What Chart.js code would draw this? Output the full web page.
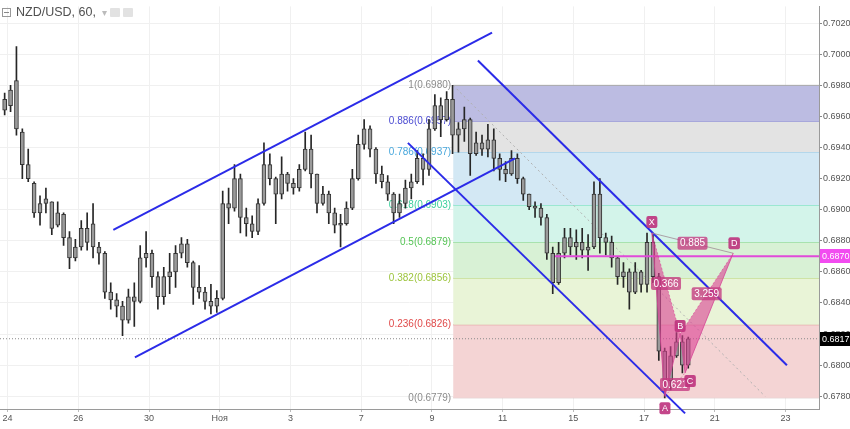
<!DOCTYPE html>
<html>
<head>
<meta charset="utf-8">
<script src="https://cdn.jsdelivr.net/npm/chart.js@4.4.0/dist/chart.umd.min.js"></script>
<style>
  html, body { margin: 0; padding: 0; background: #fff; }
  #wrap { position: relative; width: 850px; height: 429px; }
  #header { position: absolute; left: 2px; top: 5px; height: 14px; display: flex; align-items: center;
            font: 12.5px "Liberation Sans", Arial, sans-serif; color: #505050; }
  #header .box { width: 7px; height: 7px; border: 1px solid #999; position: relative; margin-right: 5px; }
  #header .box::after { content: ""; position: absolute; left: 1px; right: 1px; top: 3px; height: 1px; background: #888; }
  #header .dash { color: #bbb; margin-left: 6px; font-size: 10px; }
  #header .ico { width: 10px; height: 9px; background: #e2e2e2; margin-left: 3px; border-radius: 1px; }
  #header .ico:first-of-type { margin-left: 8px; }
</style>
</head>
<body>
<div id="wrap">
  <canvas id="chart" width="850" height="429"></canvas>
  <div id="header"><span class="box"></span><span>NZD/USD, 60,</span><span class="dash">▾</span><span class="ico"></span><span class="ico"></span></div>
</div>
<script>
// axis ticks (x in trading days from the "24" label)
const xTickPos = [0, 2, 4, 6, 8, 10, 12, 14, 16, 18, 20, 22];
const xTickLabels = ['24', '26', '30', 'Ноя', '3', '7', '9', '11', '15', '17', '21', '23'];
const yTicks = [0.678, 0.680, 0.682, 0.684, 0.686, 0.688, 0.690, 0.692, 0.694, 0.696, 0.698, 0.700, 0.702];
const xMin = -0.215, xMax = 22.947;
const yMin = 0.67718, yMax = 0.70308;

// 4-hour bars
const barStart = -1 / 12;
const barStep = 1 / 6;
const barOpen = [
  0.6971, 0.6967, 0.6983, 0.6950, 0.6929, 0.6917, 0.6898, 0.6904, 0.6905, 0.6890,
  0.6897, 0.6882, 0.6869, 0.6876, 0.6888, 0.6891, 0.6876, 0.6872, 0.6847, 0.6842,
  0.6838, 0.6829, 0.6844, 0.6841, 0.6869, 0.6872, 0.6857, 0.6844, 0.6857, 0.6860,
  0.6872, 0.6878, 0.6866, 0.6850, 0.6847, 0.6841, 0.6838, 0.6843, 0.6904, 0.6901,
  0.6920, 0.6895, 0.6891, 0.6886, 0.6904, 0.6929, 0.6920, 0.6910, 0.6923, 0.6917,
  0.6914, 0.6926, 0.6939, 0.6923, 0.6904, 0.6910, 0.6898, 0.6890, 0.6891, 0.6901,
  0.6920, 0.6942, 0.6952, 0.6939, 0.6923, 0.6918, 0.6910, 0.6898, 0.6904, 0.6914,
  0.6918, 0.6933, 0.6926, 0.6952, 0.6967, 0.6958, 0.6971, 0.6948, 0.6952, 0.6958,
  0.6936, 0.6943, 0.6939, 0.6945, 0.6933, 0.6926, 0.6923, 0.6933, 0.6920, 0.6910,
  0.6902, 0.6901, 0.6895, 0.6872, 0.6853, 0.6872, 0.6882, 0.6876, 0.6879, 0.6874,
  0.6876, 0.6910, 0.6882, 0.6879, 0.6869, 0.6857, 0.6860, 0.6847, 0.6860, 0.6852,
  0.6879, 0.6857, 0.6809, 0.6790, 0.6806, 0.6815, 0.6800
];
const barHigh = [
  0.6975, 0.6980, 0.7005, 0.6952, 0.6939, 0.6918, 0.6909, 0.6914, 0.6905, 0.6905,
  0.6898, 0.6886, 0.6881, 0.6893, 0.6898, 0.6904, 0.6879, 0.6873, 0.6853, 0.6846,
  0.6841, 0.6849, 0.6853, 0.6877, 0.6886, 0.6874, 0.6860, 0.6863, 0.6872, 0.6877,
  0.6882, 0.6881, 0.6867, 0.6864, 0.6850, 0.6852, 0.6848, 0.6912, 0.6914, 0.6929,
  0.6923, 0.6901, 0.6896, 0.6907, 0.6943, 0.6936, 0.6921, 0.6934, 0.6924, 0.6920,
  0.6929, 0.6950, 0.6948, 0.6923, 0.6915, 0.6912, 0.6901, 0.6897, 0.6905, 0.6926,
  0.6948, 0.6958, 0.6954, 0.6940, 0.6928, 0.6922, 0.6911, 0.6910, 0.6919, 0.6923,
  0.6938, 0.6936, 0.6958, 0.6974, 0.6972, 0.6976, 0.6980, 0.6956, 0.6966, 0.6959,
  0.6950, 0.6948, 0.6955, 0.6952, 0.6936, 0.6931, 0.6938, 0.6936, 0.6921, 0.6910,
  0.6905, 0.6904, 0.6897, 0.6876, 0.6879, 0.6888, 0.6888, 0.6887, 0.6888, 0.6884,
  0.6918, 0.6920, 0.6885, 0.6883, 0.6870, 0.6866, 0.6862, 0.6866, 0.6861, 0.6885,
  0.6884, 0.6859, 0.6811, 0.6812, 0.6821, 0.6819, 0.6818
];
const barLow = [
  0.6961, 0.6963, 0.6948, 0.6920, 0.6918, 0.6895, 0.6890, 0.6898, 0.6884, 0.6889,
  0.6877, 0.6862, 0.6867, 0.6874, 0.6874, 0.6869, 0.6865, 0.6843, 0.6836, 0.6831,
  0.6819, 0.6827, 0.6825, 0.6840, 0.6863, 0.6850, 0.6836, 0.6839, 0.6846, 0.6850,
  0.6869, 0.6863, 0.6839, 0.6843, 0.6836, 0.6833, 0.6834, 0.6842, 0.6891, 0.6899,
  0.6885, 0.6883, 0.6882, 0.6884, 0.6903, 0.6916, 0.6891, 0.6907, 0.6912, 0.6910,
  0.6912, 0.6925, 0.6914, 0.6898, 0.6903, 0.6891, 0.6885, 0.6876, 0.6890, 0.6900,
  0.6919, 0.6939, 0.6934, 0.6917, 0.6914, 0.6906, 0.6891, 0.6895, 0.6901, 0.6907,
  0.6917, 0.6916, 0.6922, 0.6951, 0.6947, 0.6957, 0.6936, 0.6937, 0.6944, 0.6922,
  0.6935, 0.6935, 0.6934, 0.6925, 0.6919, 0.6918, 0.6922, 0.6917, 0.6906, 0.6900,
  0.6895, 0.6890, 0.6868, 0.6846, 0.6852, 0.6869, 0.6871, 0.6868, 0.6869, 0.6861,
  0.6875, 0.6872, 0.6871, 0.6863, 0.6852, 0.6850, 0.6836, 0.6846, 0.6847, 0.6847,
  0.6853, 0.6803, 0.6779, 0.6784, 0.6805, 0.6795, 0.6798
];
const barClose = [
  0.6964, 0.6977, 0.6952, 0.6929, 0.6920, 0.6898, 0.6904, 0.6907, 0.6888, 0.6898,
  0.6882, 0.6869, 0.6876, 0.6888, 0.6879, 0.6876, 0.6872, 0.6847, 0.6842, 0.6838,
  0.6829, 0.6844, 0.6841, 0.6869, 0.6872, 0.6857, 0.6844, 0.6857, 0.6860, 0.6872,
  0.6878, 0.6866, 0.6850, 0.6847, 0.6841, 0.6838, 0.6843, 0.6904, 0.6901, 0.6920,
  0.6895, 0.6891, 0.6886, 0.6904, 0.6929, 0.6920, 0.6910, 0.6923, 0.6917, 0.6914,
  0.6926, 0.6939, 0.6923, 0.6904, 0.6910, 0.6898, 0.6890, 0.6891, 0.6901, 0.6920,
  0.6942, 0.6952, 0.6939, 0.6923, 0.6918, 0.6910, 0.6898, 0.6904, 0.6914, 0.6918,
  0.6933, 0.6926, 0.6952, 0.6967, 0.6958, 0.6971, 0.6948, 0.6952, 0.6958, 0.6936,
  0.6943, 0.6939, 0.6945, 0.6933, 0.6926, 0.6923, 0.6933, 0.6920, 0.6910, 0.6902,
  0.6901, 0.6895, 0.6872, 0.6853, 0.6872, 0.6882, 0.6876, 0.6879, 0.6874, 0.6876,
  0.6910, 0.6882, 0.6879, 0.6869, 0.6857, 0.6860, 0.6847, 0.6860, 0.6852, 0.6879,
  0.6857, 0.6809, 0.6790, 0.6806, 0.6815, 0.6800, 0.6817
];

// fibonacci retracement
const fibStartX = 12.6;
const fibLevels = [1, 0.886, 0.786, 0.618, 0.5, 0.382, 0.236, 0];
const fibPrices = [0.6980, 0.6957, 0.6937, 0.6903, 0.6879, 0.6856, 0.6826, 0.6779];
const fibLineColors = ['#a8a8a8', '#8282d6', '#8cc8ea', '#6edcbc', '#8ed88e', '#bcd886', '#e08c8c', '#d8c0c0'];
const fibTextColors = ['#8c8c8c', '#4c4cd2', '#4aa8dc', '#3ccf9c', '#55c455', '#9cc43c', '#e04a4a', '#8c8c8c'];
const fibFillColors = ['#bcbce2', '#e3e3e3', '#d3e8f4', '#d3f4ea', '#d8f1d5', '#e9f4d7', '#f4d4d4'];
const fibTrendX = [12.6, 21.42];
const fibTrendY = [0.6980, 0.6780];

// trend channels (start / end anchors)
const upperRiseX = [2.99, 13.70], upperRiseY = [0.6887, 0.7014];
const lowerRiseX = [3.60, 14.35], lowerRiseY = [0.6805, 0.6933];
const upperFallX = [13.30, 22.04], upperFallY = [0.6996, 0.6800];
const lowerFallX = [11.32, 19.16], lowerFallY = [0.6943, 0.6769];

// horizontal levels
const pinkLevelX = [15.48, xMax], pinkLevel = 0.6870;
const lastPrice = 0.6817;

// XABCD pattern
const patternNames = ['X', 'A', 'B', 'C', 'D'];
const patternX = [18.22, 18.59, 19.02, 19.16, 20.52];
const patternY = [0.6885, 0.6780, 0.6820, 0.6795, 0.6872];
const patternRatios = [['X', 'B', '0.366'], ['A', 'C', '0.621'], ['B', 'D', '3.259'], ['X', 'D', '0.885']];

const FONT = '"Liberation Sans", Arial, sans-serif';
const BLUE = '#2b2be8';
const PINK_FILL = 'rgba(218, 64, 146, 0.6)';

const pt = (xs, ys) => xs.map((v, i) => ({ x: v, y: ys[i] }));
const P = name => { const i = patternNames.indexOf(name); return { x: patternX[i], y: patternY[i] }; };

function lineSet(data, color, width, extra) {
    return Object.assign({ type: 'line', data, borderColor: color, borderWidth: width,
        pointRadius: 0, fill: false, tension: 0, order: 2 }, extra || {});
}

const datasets = [];

// fib bands, each filled down to the next level
fibPrices.forEach((p, i) => {
    datasets.push(lineSet([{ x: fibStartX, y: p }, { x: xMax, y: p }], fibLineColors[i], 1, {
        fill: i < fibFillColors.length ? { value: fibPrices[i + 1] } : false,
        backgroundColor: fibFillColors[i] || 'transparent',
        order: 20
    }));
});

// last price dotted line
datasets.push(lineSet([{ x: xMin, y: lastPrice }, { x: xMax, y: lastPrice }], '#8a8a8a', 1, { borderDash: [1, 2], order: 15 }));
// fib trend line
datasets.push(lineSet(pt(fibTrendX, fibTrendY), '#b0b0b0', 1, { borderDash: [2, 3], order: 15 }));

// candles
datasets.push({
    type: 'bar', grouped: false, order: 10, barThickness: 1, backgroundColor: '#262626',
    data: barOpen.map((o, i) => ({ x: barStart + i * barStep, y: [barLow[i], barHigh[i]] }))
});
datasets.push({
    type: 'bar', grouped: false, order: 9, barThickness: 4, minBarLength: 2,
    backgroundColor: '#9a9a9a', borderColor: '#333', borderWidth: 1, borderSkipped: false,
    data: barOpen.map((o, i) => ({ x: barStart + i * barStep, y: [Math.min(o, barClose[i]), Math.max(o, barClose[i])] }))
});

// pink horizontal level
datasets.push(lineSet(pt(pinkLevelX, [pinkLevel, pinkLevel]), '#e14ad9', 2, { order: 4 }));

// channels
datasets.push(lineSet(pt(upperRiseX, upperRiseY), BLUE, 2));
datasets.push(lineSet(pt(lowerRiseX, lowerRiseY), BLUE, 2));
datasets.push(lineSet(pt(upperFallX, upperFallY), BLUE, 2));
datasets.push(lineSet(pt(lowerFallX, lowerFallY), BLUE, 2, { clip: false }));

// pattern triangles: X-A-B filled to X-B, B-C-D filled to B-D
datasets.push(lineSet([P('X'), P('A'), P('B')], 'rgba(214, 70, 150, 0.8)', 1, { fill: '+1', backgroundColor: PINK_FILL, order: 1 }));
datasets.push(lineSet([P('X'), P('B')], 'rgba(214, 70, 150, 0.6)', 1, { borderDash: [2, 2], order: 1 }));
datasets.push(lineSet([P('B'), P('C'), P('D')], 'rgba(214, 70, 150, 0.8)', 1, { fill: '+1', backgroundColor: PINK_FILL, order: 1 }));
datasets.push(lineSet([P('B'), P('D')], 'rgba(214, 70, 150, 0.6)', 1, { borderDash: [2, 2], order: 1 }));
datasets.push(lineSet([P('X'), P('D')], 'rgba(160, 140, 150, 0.8)', 1, { order: 1 }));
datasets.push(lineSet([P('A'), P('C')], 'rgba(214, 70, 150, 0.6)', 1, { borderDash: [2, 2], order: 1 }));

function tag(ctx, text, cx, cy, bg, fontSize) {
    ctx.font = fontSize + 'px ' + FONT;
    const w = ctx.measureText(text).width + 5;
    const h = fontSize + 3;
    ctx.fillStyle = bg;
    ctx.beginPath();
    ctx.roundRect(cx - w / 2, cy - h / 2, w, h, 2);
    ctx.fill();
    ctx.fillStyle = '#fff';
    ctx.textAlign = 'center';
    ctx.textBaseline = 'middle';
    ctx.fillText(text, cx, cy + 0.5);
}

const labelOffsets = { X: [0, -11], A: [0, 12], B: [0, -8], C: [5, 8], D: [1, -10] };

const drawings = {
    id: 'drawings',
    beforeDatasetsDraw(chart) {
        const { ctx, scales: { x, y } } = chart;
        ctx.save();
        ctx.font = '10px ' + FONT;
        ctx.textAlign = 'right';
        ctx.textBaseline = 'middle';
        fibLevels.forEach((lv, i) => {
            ctx.fillStyle = fibTextColors[i];
            ctx.fillText(lv + '(' + fibPrices[i].toFixed(4) + ')', x.getPixelForValue(fibStartX) - 2, y.getPixelForValue(fibPrices[i]));
        });
        ctx.restore();
    },
    afterDatasetsDraw(chart) {
        const { ctx, scales: { x, y } } = chart;
        ctx.save();
        patternRatios.forEach(([a, b, text]) => {
            const pa = P(a), pb = P(b);
            const cx = (x.getPixelForValue(pa.x) + x.getPixelForValue(pb.x)) / 2;
            const cy = (y.getPixelForValue(pa.y) + y.getPixelForValue(pb.y)) / 2;
            tag(ctx, text, cx, cy, 'rgba(196, 56, 128, 0.78)', 10);
        });
        patternNames.forEach((n, i) => {
            const [dx, dy] = labelOffsets[n];
            tag(ctx, n, x.getPixelForValue(patternX[i]) + dx, y.getPixelForValue(patternY[i]) + dy, 'rgba(190, 50, 125, 0.9)', 9);
        });
        ctx.restore();
    },
    afterDraw(chart) {
        const { ctx, chartArea, scales: { y } } = chart;
        ctx.save();
        const badge = (price, bg) => {
            const py = Math.round(y.getPixelForValue(price));
            ctx.fillStyle = bg;
            ctx.fillRect(chartArea.right + 1, py - 7, 850 - chartArea.right - 1, 14);
            ctx.fillStyle = '#fff';
            ctx.font = '9px ' + FONT;
            ctx.textAlign = 'left';
            ctx.textBaseline = 'middle';
            ctx.fillText(price.toFixed(4), chartArea.right + 3, py + 0.5);
        };
        badge(pinkLevel, '#f24cf0');
        badge(lastPrice, '#000');
        ctx.restore();
    }
};

new Chart(document.getElementById('chart'), {
    type: 'bar',
    data: { datasets },
    options: {
        responsive: false,
        animation: false,
        layout: { padding: 0 },
        plugins: { legend: { display: false }, tooltip: { enabled: false } },
        scales: {
            x: {
                type: 'linear', min: xMin, max: xMax, offset: false,
                afterBuildTicks: s => { s.ticks = xTickPos.map(v => ({ value: v })); },
                afterFit: s => { s.height = 20; },
                ticks: { callback: (v, i) => xTickLabels[i], autoSkip: false, maxRotation: 0,
                         font: { size: 9, family: FONT }, color: '#555', padding: 1 },
                grid: { color: '#f0f0f0', offset: false, tickLength: 3, tickColor: '#bbb' },
                border: { color: '#9a9a9a' }
            },
            y: {
                position: 'right', min: yMin, max: yMax,
                afterBuildTicks: s => { s.ticks = yTicks.map(v => ({ value: v })); },
                afterFit: s => { s.width = 31; },
                ticks: { callback: v => v.toFixed(4), font: { size: 9, family: FONT }, color: '#555', padding: 1 },
                grid: { color: '#f0f0f0', tickLength: 3, tickColor: '#888' },
                border: { color: '#9a9a9a' }
            }
        }
    },
    plugins: [drawings]
});
</script>
</body>
</html>
